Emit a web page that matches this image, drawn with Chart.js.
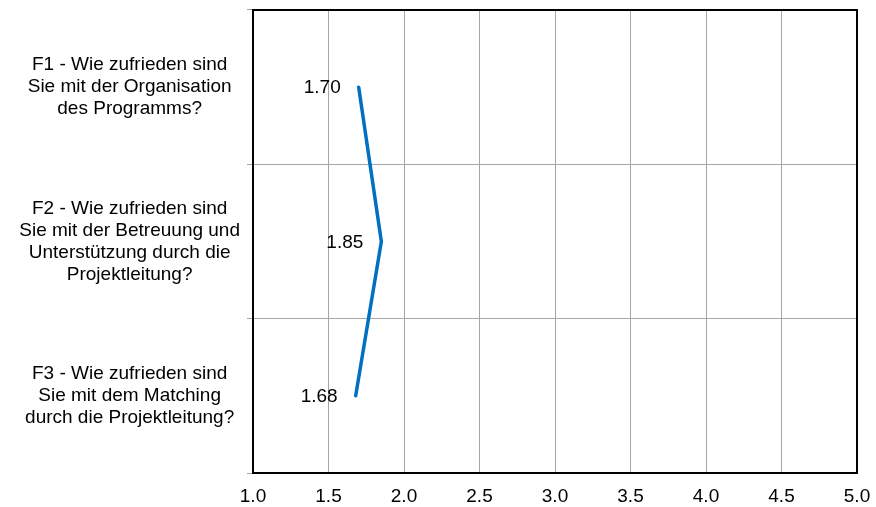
<!DOCTYPE html>
<html>
<head>
<meta charset="utf-8">
<script src="https://cdn.jsdelivr.net/npm/chart.js@4/dist/chart.umd.min.js"></script>
<style>
  body { margin: 0; background: #fff; }
  canvas { display: block; }
</style>
</head>
<body>
<canvas id="grafico" width="876" height="507"></canvas>
<script>
// ..........DADOS..........
var categorias = [
    ["F1 - Wie zufrieden sind", "Sie mit der Organisation", "des Programms?"],
    ["F2 - Wie zufrieden sind", "Sie mit der Betreuung und", "Unterstützung durch die", "Projektleitung?"],
    ["F3 - Wie zufrieden sind", "Sie mit dem Matching", "durch die Projektleitung?"]
];
var valores = [1.70, 1.85, 1.68];
var ticksX = [1.0, 1.5, 2.0, 2.5, 3.0, 3.5, 4.0, 4.5, 5.0];

var fonte = "'Liberation Sans', Arial, sans-serif";

// moldura preta em volta da area do grafico
var moldura = {
    id: 'moldura',
    afterDatasetsDraw: function(chart) {
        var a = chart.chartArea;
        var c = chart.ctx;
        c.save();
        c.strokeStyle = '#000';
        c.lineWidth = 2;
        c.strokeRect(a.left, a.top, a.right - a.left, a.bottom - a.top);
        c.restore();
    }
};

// rotulos de valor a esquerda dos pontos
var rotulos = {
    id: 'rotulos',
    afterDatasetsDraw: function(chart) {
        var c = chart.ctx;
        var meta = chart.getDatasetMeta(0);
        c.save();
        c.font = '19px ' + fonte;
        c.fillStyle = '#000';
        c.textAlign = 'right';
        c.textBaseline = 'middle';
        meta.data.forEach(function(p, i) {
            c.fillText(valores[i].toFixed(2), p.x - 18, p.y + 1);
        });
        c.restore();
    }
};

var ctx = document.getElementById('grafico').getContext('2d');
var grafico = new Chart(ctx, {
    type: 'line',
    data: {
        labels: categorias,
        datasets: [{
            data: valores,
            borderColor: '#0070C0',
            borderWidth: 3.5,
            borderCapStyle: 'round',
            borderJoinStyle: 'miter',
            pointRadius: 0,
            tension: 0,
            fill: false
        }]
    },
    options: {
        responsive: false,
        animation: false,
        indexAxis: 'y',
        layout: { padding: { left: 0, top: 10, right: 19, bottom: 0 } },
        plugins: { legend: { display: false }, tooltip: { enabled: false } },
        scales: {
            x: {
                type: 'linear',
                position: 'bottom',
                min: 1,
                max: 5,
                afterBuildTicks: function(s) {
                    s.ticks = ticksX.map(function(v) { return { value: v }; });
                },
                afterFit: function(s) {
                    s.height = 34;
                    s.paddingLeft = 0;
                    s.paddingRight = 0;
                },
                ticks: {
                    color: '#000',
                    font: { family: fonte, size: 19 },
                    padding: 12,
                    maxRotation: 0,
                    callback: function(v) { return Number(v).toFixed(1); }
                },
                grid: { color: '#a6a6a6', lineWidth: 1, drawTicks: false },
                border: { display: false }
            },
            y: {
                type: 'category',
                offset: true,
                afterFit: function(s) {
                    s.width = 253;
                    s.paddingTop = 0;
                    s.paddingBottom = 0;
                },
                ticks: {
                    color: '#000',
                    font: { family: fonte, size: 19, lineHeight: 22 / 19 },
                    crossAlign: 'center',
                    padding: 7,
                    autoSkip: false
                },
                grid: { color: '#a6a6a6', lineWidth: 1, offset: true, tickLength: 6 },
                border: { display: false }
            }
        }
    },
    plugins: [moldura, rotulos]
});
</script>
</body>
</html>
